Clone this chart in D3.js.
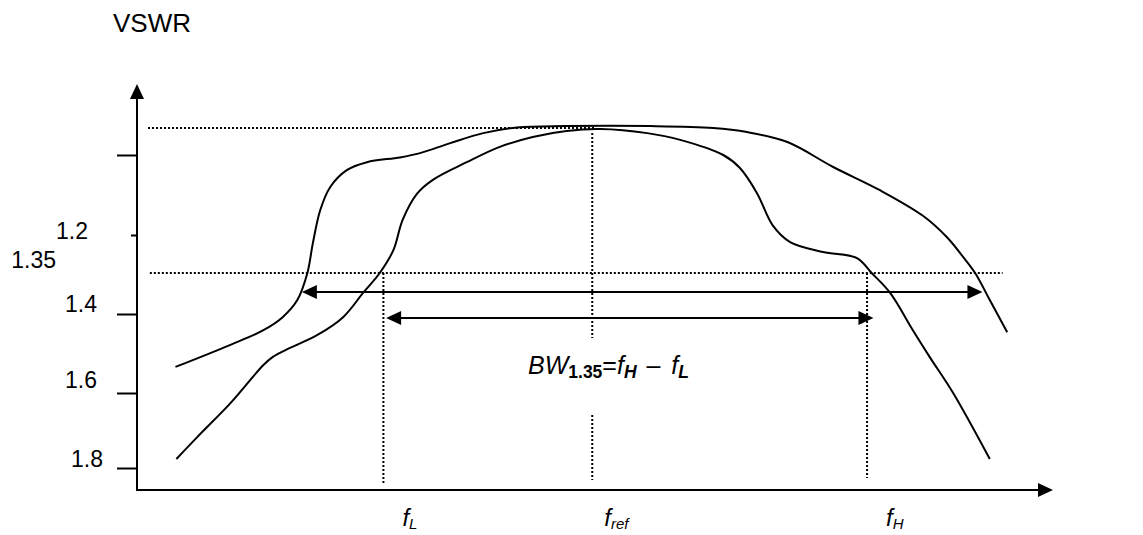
<!DOCTYPE html>
<html>
<head>
<meta charset="utf-8">
<script src="https://cdn.jsdelivr.net/npm/d3@7"></script>
<style>
  html, body { margin: 0; padding: 0; background: #fff; }
  svg { display: block; font-family: "Liberation Sans", Arial, Helvetica, sans-serif; }
  text { fill: #000; white-space: pre; }
</style>
</head>
<body>
<svg id="chart" width="1143" height="535"></svg>
<script>
// Frequency in arbitrary units along the horizontal axis (0 = origin, 100 = arrow tip)
// Wide-band response
const freqWide = [4.2, 10.2, 13.8, 15.9, 17.5, 18.6, 19.2, 20.0, 21.1, 22.9,
                  25.1, 28.7, 30.9, 34.2, 37.8, 41.5, 46.9, 56.0, 62.9, 66.6,
                  71.0, 76.0, 81.1, 85.8, 88.4, 90.2, 91.5, 93.1, 95.0];
const vswrWide = [1.534, 1.478, 1.441, 1.408, 1.383, 1.350, 1.232, 1.169, 1.140, 1.119,
                  1.109, 1.103, 1.093, 1.056, 1.019, 0.998, 0.993, 0.993, 1.000, 1.015,
                  1.052, 1.115, 1.144, 1.176, 1.208, 1.287, 1.350, 1.383, 1.446];

// Narrow-band response
const freqNarrow = [4.3, 6.6, 10.2, 13.8, 14.8, 16.7, 19.7, 22.5, 24.7, 26.5,
                    28.0, 29.0, 30.6, 32.3, 36.0, 39.6, 43.2, 46.9, 50.6, 55.7,
                    59.3, 64.0, 65.8, 67.7, 69.4, 71.3, 74.9, 78.6, 80.2, 82.2,
                    84.7, 86.6, 89.1, 93.1];
const vswrNarrow = [1.776, 1.717, 1.627, 1.529, 1.509, 1.486, 1.453, 1.408, 1.374, 1.350,
                    1.259, 1.181, 1.148, 1.131, 1.109, 1.070, 1.033, 1.011, 1.004, 1.019,
                    1.044, 1.100, 1.116, 1.148, 1.188, 1.228, 1.267, 1.291, 1.350, 1.374,
                    1.441, 1.511, 1.600, 1.776];

// Vertical axis ticks and labels
const tickValues = [1.1, 1.2, 1.4, 1.6, 1.8];
const tickLabelValues = [1.2, 1.35, 1.4, 1.6, 1.8];
const tickLabels = ["1.2", "1.35", "1.4", "1.6", "1.8"];

// Reference levels and frequencies
const vswrBest = 1.0;
const vswrLimit = 1.35;
const bestSpan = [1.2, 50.0];
const limitSpan = [1.4, 94.5];
const fL = 26.9, fRef = 49.7, fH = 79.7;
const bandWide = [18.0, 92.3];
const bandNarrow = [27.2, 80.4];

// ---------------------------------------------------------------
const svg = d3.select("#chart");
const originX = 137, baseY = 490, topTipY = 84;
const head = 15, halfHead = 7;

const x = d3.scaleLinear().domain([0, 100]).range([originX, 1053]);
const y = d3.scaleLinear()
  .domain([1.0, 1.1, 1.2, 1.35, 1.4, 1.6, 1.8])
  .range([128, 155, 235, 273, 314, 393, 468]);

function arrowHead(tx, ty, dx, dy) {
  const bx = tx - dx * head, by = ty - dy * head;
  const px = -dy * halfHead, py = dx * halfHead;
  return `M${tx},${ty}L${bx + px},${by + py}L${bx - px},${by - py}Z`;
}

const dotted = g => g.attr("stroke", "#000").attr("stroke-width", 2)
  .attr("stroke-dasharray", "2 2").attr("fill", "none");

// dotted reference lines
const ref = svg.append("g");
ref.append("line").call(dotted)
  .attr("x1", x(bestSpan[0])).attr("x2", x(bestSpan[1]))
  .attr("y1", y(vswrBest)).attr("y2", y(vswrBest));
ref.append("line").call(dotted)
  .attr("x1", x(limitSpan[0])).attr("x2", x(limitSpan[1]))
  .attr("y1", y(vswrLimit)).attr("y2", y(vswrLimit));
ref.append("line").call(dotted)
  .attr("x1", x(fL)).attr("x2", x(fL))
  .attr("y1", y(vswrLimit)).attr("y2", baseY - 5);
ref.append("line").call(dotted)
  .attr("x1", x(fH)).attr("x2", x(fH))
  .attr("y1", y(vswrLimit)).attr("y2", baseY - 12);

const bwY = 374;
ref.append("line").call(dotted)
  .attr("x1", x(fRef)).attr("x2", x(fRef))
  .attr("y1", y(vswrBest) + 5).attr("y2", bwY - 36);
ref.append("line").call(dotted)
  .attr("x1", x(fRef)).attr("x2", x(fRef))
  .attr("y1", bwY + 41).attr("y2", baseY - 10);

// response curves
const line = d3.line()
  .x(d => x(d[0])).y(d => y(d[1]))
  .curve(d3.curveCatmullRom.alpha(0.5));

svg.append("path")
  .attr("d", line(d3.zip(freqWide, vswrWide)))
  .attr("fill", "none").attr("stroke", "#000").attr("stroke-width", 2);
svg.append("path")
  .attr("d", line(d3.zip(freqNarrow, vswrNarrow)))
  .attr("fill", "none").attr("stroke", "#000").attr("stroke-width", 2);

// bandwidth arrows
function bandArrow(span, yy) {
  const g = svg.append("g");
  const x0 = x(span[0]), x1 = x(span[1]);
  g.append("line").attr("x1", x0 + head - 1).attr("x2", x1 - head + 1)
    .attr("y1", yy).attr("y2", yy).attr("stroke", "#000").attr("stroke-width", 2);
  g.append("path").attr("d", arrowHead(x0, yy, -1, 0)).attr("fill", "#000");
  g.append("path").attr("d", arrowHead(x1, yy, 1, 0)).attr("fill", "#000");
}
bandArrow(bandWide, y(vswrLimit) + 19);
bandArrow(bandNarrow, y(vswrLimit) + 45);

// axes
const axes = svg.append("g");
axes.append("line").attr("x1", originX).attr("x2", originX)
  .attr("y1", baseY + 1).attr("y2", topTipY + head - 1)
  .attr("stroke", "#000").attr("stroke-width", 2);
axes.append("path").attr("d", arrowHead(originX, topTipY, 0, -1)).attr("fill", "#000");
axes.append("line").attr("x1", originX - 1).attr("x2", x(100) - head + 1)
  .attr("y1", baseY).attr("y2", baseY)
  .attr("stroke", "#000").attr("stroke-width", 2);
axes.append("path").attr("d", arrowHead(x(100), baseY, 1, 0)).attr("fill", "#000");

const yAxis = d3.axisLeft(y).tickValues(tickValues).tickSizeInner(20)
  .tickSizeOuter(0).tickFormat("");
const yg = svg.append("g").attr("transform", `translate(${originX},0)`).call(yAxis);
yg.select(".domain").remove();
yg.selectAll(".tick line").attr("stroke", "#000").attr("stroke-width", 2)
  .filter(d => d === 1.2).attr("x2", -6);

// tick labels, each nudged to sit beside its level
const labelRight = { "1.2": 88, "1.35": 56, "1.4": 97, "1.6": 97, "1.8": 103 };
const labelDy = { "1.2": 4, "1.35": -5, "1.4": -2, "1.6": -5, "1.8": -1 };
svg.append("g").selectAll("text")
  .data(tickLabelValues.map((v, i) => ({ v, t: tickLabels[i] })))
  .join("text")
  .attr("x", d => labelRight[d.t])
  .attr("y", d => y(d.v) + labelDy[d.t])
  .attr("text-anchor", "end")
  .attr("font-size", 23)
  .text(d => d.t);

// axis title
svg.append("text").attr("x", 113).attr("y", 32).attr("font-size", 26).text("VSWR");

// bandwidth formula
const bw = svg.append("text").attr("x", 528).attr("y", bwY).attr("font-size", 25);
bw.append("tspan").attr("font-style", "italic").text("BW");
bw.append("tspan").attr("font-size", 17.5).attr("font-weight", "bold").attr("dy", 4).text("1.35");
bw.append("tspan").attr("dy", -4).text("=");
bw.append("tspan").attr("font-style", "italic").text("f");
bw.append("tspan").attr("font-size", 17.5).attr("font-weight", "bold").attr("font-style", "italic").attr("dy", 4).text("H");
bw.append("tspan").attr("dy", -4).attr("dx", 3).text(" \u2013 ");
bw.append("tspan").attr("dx", 4).attr("font-style", "italic").text("f");
bw.append("tspan").attr("font-size", 17.5).attr("font-weight", "bold").attr("font-style", "italic").attr("dy", 4).text("L");

// frequency labels
function freqLabel(f, sub, dx) {
  const t = svg.append("text").attr("x", x(f) + dx).attr("y", 526)
    .attr("font-size", 24).attr("font-style", "italic");
  t.append("tspan").text("f");
  t.append("tspan").attr("font-size", 15).attr("dy", 3).text(sub);
}
freqLabel(fL, "L", 19);
freqLabel(fRef, "ref", 12);
freqLabel(fH, "H", 19);
</script>
</body>
</html>
